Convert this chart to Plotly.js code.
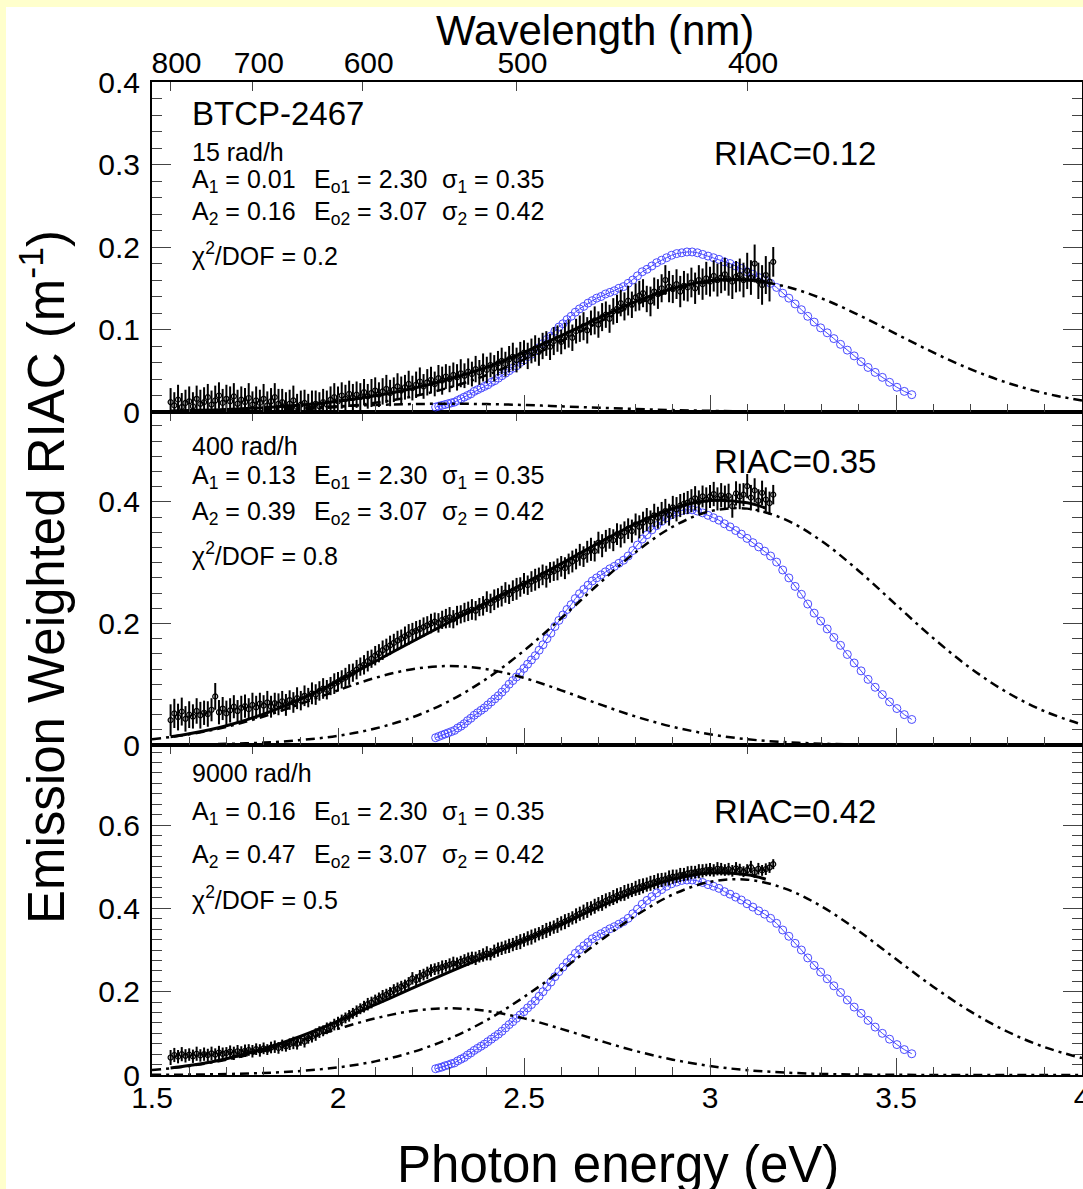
<!DOCTYPE html>
<html>
<head>
<meta charset="utf-8">
<script src="https://cdn.plot.ly/plotly-3.0.1.min.js"></script>
<style>
  html, body { margin:0; padding:0; background:#ffffcc; width:1083px; height:1189px; overflow:hidden; }
  #chart { position:absolute; left:6px; top:7px; width:1077px; height:1182px; }
</style>
</head>
<body>
<div id="chart"></div>
<script>
// ---------------- DATA ----------------
const hc = 1239.84; // eV*nm, energy <-> wavelength
const wavelengthTicks = [800, 700, 600, 500, 400];

const doseLabels = ['15 rad/h', '400 rad/h', '9000 rad/h'];
const fitA1 = ['0.01', '0.13', '0.16'];
const fitA2 = ['0.16', '0.39', '0.47'];
const fitE1 = '2.30', fitE2 = '3.07', fitS1 = '0.35', fitS2 = '0.42';
const chi2dof = ['0.2', '0.8', '0.5'];
const riacValues = ['0.12', '0.35', '0.42'];

// measured points: photon energy sampled from 1.55 eV in 0.01 eV steps
const dataStartE = 1.55, dataStepE = 0.01;

const riac15 = [
0.012,0.008,0.015,0.006,0.011,0.013,0.007,0.016,0.010,0.012,
0.018,0.009,0.014,0.020,0.011,0.016,0.013,0.019,0.010,0.015,
0.012,0.017,0.009,0.014,0.011,0.016,0.008,0.013,0.018,0.010,
0.012,0.007,0.010,0.014,0.006,0.009,0.011,0.005,0.008,0.010,
0.007,0.012,0.009,0.015,0.018,0.013,0.020,0.016,0.022,0.017,
0.021,0.018,0.024,0.019,0.023,0.026,0.021,0.025,0.028,0.023,
0.027,0.031,0.026,0.030,0.034,0.029,0.033,0.037,0.031,0.036,
0.039,0.034,0.041,0.038,0.043,0.040,0.045,0.042,0.047,0.044,
0.049,0.046,0.052,0.048,0.054,0.051,0.057,0.053,0.059,0.062,
0.058,0.064,0.067,0.063,0.069,0.072,0.068,0.074,0.077,0.073,
0.080,0.083,0.079,0.086,0.089,0.085,0.092,0.095,0.090,0.098,
0.101,0.104,0.099,0.108,0.111,0.106,0.115,0.118,0.113,0.122,
0.125,0.132,0.128,0.135,0.130,0.139,0.141,0.144,0.137,0.134,
0.146,0.143,0.150,0.160,0.152,0.149,0.155,0.146,0.153,0.151,
0.157,0.150,0.160,0.155,0.162,0.158,0.165,0.160,0.163,0.167,
0.161,0.158,0.164,0.166,0.160,0.171,0.163,0.180,0.159,0.154,
0.166,0.158,0.182];
const err15 = [
0.017,0.016,0.018,0.017,0.016,0.018,0.017,0.016,0.017,0.018,
0.016,0.017,0.018,0.016,0.017,0.017,0.018,0.016,0.017,0.016,
0.017,0.018,0.016,0.017,0.016,0.018,0.017,0.016,0.017,0.018,
0.016,0.017,0.017,0.018,0.016,0.017,0.016,0.017,0.018,0.016,
0.017,0.016,0.017,0.016,0.017,0.018,0.016,0.017,0.016,0.017,
0.016,0.017,0.016,0.015,0.017,0.016,0.015,0.016,0.017,0.016,
0.015,0.016,0.017,0.015,0.016,0.015,0.016,0.017,0.015,0.016,
0.016,0.015,0.016,0.017,0.015,0.016,0.015,0.016,0.017,0.015,
0.016,0.015,0.016,0.015,0.017,0.016,0.015,0.016,0.015,0.016,
0.015,0.016,0.017,0.015,0.016,0.015,0.016,0.015,0.016,0.017,
0.016,0.015,0.016,0.017,0.016,0.015,0.016,0.017,0.016,0.015,
0.016,0.017,0.016,0.015,0.017,0.016,0.017,0.016,0.017,0.016,
0.017,0.016,0.017,0.018,0.016,0.017,0.018,0.017,0.016,0.018,
0.017,0.018,0.017,0.018,0.019,0.017,0.018,0.019,0.018,0.017,
0.018,0.019,0.018,0.019,0.020,0.018,0.019,0.020,0.019,0.020,
0.020,0.021,0.019,0.020,0.021,0.022,0.021,0.023,0.022,0.024,
0.023,0.024,0.018];

const riac400 = [
0.041,0.052,0.046,0.055,0.043,0.050,0.047,0.056,0.049,0.053,
0.051,0.058,0.080,0.054,0.060,0.052,0.057,0.063,0.056,0.061,
0.064,0.059,0.066,0.062,0.068,0.065,0.070,0.063,0.069,0.067,
0.072,0.066,0.074,0.070,0.077,0.073,0.081,0.078,0.085,0.083,
0.089,0.093,0.091,0.097,0.101,0.104,0.108,0.111,0.116,0.119,
0.124,0.129,0.132,0.138,0.142,0.147,0.151,0.156,0.160,0.164,
0.168,0.172,0.175,0.179,0.182,0.186,0.188,0.191,0.194,0.197,
0.200,0.203,0.201,0.206,0.208,0.210,0.207,0.213,0.215,0.218,
0.220,0.223,0.221,0.227,0.229,0.236,0.233,0.239,0.242,0.245,
0.251,0.248,0.254,0.257,0.260,0.266,0.263,0.269,0.272,0.275,
0.280,0.277,0.284,0.286,0.289,0.294,0.291,0.298,0.302,0.306,
0.313,0.310,0.318,0.322,0.319,0.333,0.328,0.336,0.340,0.337,
0.347,0.344,0.350,0.356,0.352,0.363,0.359,0.366,0.371,0.368,
0.378,0.374,0.381,0.385,0.379,0.391,0.388,0.394,0.397,0.399,
0.402,0.406,0.400,0.409,0.404,0.409,0.413,0.405,0.411,0.408,
0.410,0.393,0.414,0.409,0.412,0.426,0.407,0.419,0.402,0.415,
0.404,0.398,0.412];
const err400 = [
0.026,0.024,0.022,0.023,0.021,0.022,0.020,0.021,0.022,0.020,
0.021,0.019,0.022,0.020,0.019,0.021,0.020,0.019,0.018,0.020,
0.019,0.018,0.020,0.019,0.018,0.017,0.019,0.018,0.017,0.018,
0.017,0.018,0.016,0.017,0.018,0.016,0.017,0.016,0.018,0.017,
0.016,0.017,0.016,0.015,0.017,0.016,0.015,0.016,0.017,0.015,
0.016,0.015,0.016,0.017,0.015,0.016,0.015,0.016,0.015,0.016,
0.015,0.016,0.015,0.016,0.017,0.015,0.016,0.015,0.016,0.015,
0.016,0.015,0.016,0.015,0.016,0.017,0.015,0.016,0.015,0.016,
0.016,0.017,0.016,0.015,0.016,0.017,0.016,0.017,0.016,0.017,
0.017,0.016,0.017,0.018,0.016,0.017,0.016,0.017,0.018,0.017,
0.017,0.018,0.017,0.016,0.018,0.017,0.018,0.017,0.018,0.017,
0.018,0.017,0.018,0.019,0.017,0.018,0.019,0.018,0.017,0.018,
0.018,0.019,0.018,0.017,0.019,0.018,0.019,0.018,0.019,0.018,
0.019,0.018,0.019,0.020,0.018,0.019,0.020,0.019,0.018,0.019,
0.019,0.020,0.019,0.018,0.020,0.019,0.020,0.019,0.020,0.019,
0.020,0.019,0.020,0.021,0.019,0.020,0.021,0.020,0.019,0.020,
0.020,0.019,0.016];

const riac9000 = [
0.042,0.048,0.044,0.050,0.046,0.049,0.045,0.051,0.047,0.050,
0.048,0.052,0.049,0.054,0.051,0.053,0.056,0.052,0.057,0.055,
0.058,0.060,0.057,0.062,0.059,0.064,0.061,0.066,0.068,0.065,
0.071,0.069,0.074,0.077,0.075,0.083,0.080,0.088,0.092,0.097,
0.103,0.106,0.112,0.115,0.121,0.125,0.131,0.137,0.142,0.148,
0.153,0.159,0.164,0.170,0.174,0.180,0.184,0.189,0.193,0.198,
0.204,0.207,0.212,0.216,0.221,0.232,0.228,0.237,0.241,0.245,
0.251,0.254,0.256,0.259,0.262,0.265,0.268,0.267,0.272,0.275,
0.278,0.281,0.280,0.285,0.288,0.292,0.290,0.297,0.301,0.304,
0.307,0.310,0.313,0.317,0.320,0.324,0.328,0.331,0.335,0.339,
0.343,0.347,0.351,0.355,0.359,0.364,0.368,0.372,0.377,0.382,
0.387,0.391,0.396,0.400,0.405,0.410,0.413,0.418,0.422,0.426,
0.430,0.434,0.437,0.441,0.444,0.448,0.451,0.454,0.457,0.460,
0.463,0.466,0.468,0.470,0.473,0.476,0.477,0.480,0.481,0.484,
0.486,0.487,0.489,0.490,0.492,0.493,0.491,0.495,0.494,0.492,
0.494,0.490,0.496,0.493,0.488,0.492,0.499,0.486,0.495,0.491,
0.494,0.498,0.506];
const err9000 = [
0.018,0.017,0.016,0.017,0.016,0.015,0.016,0.017,0.015,0.016,
0.015,0.016,0.015,0.016,0.015,0.014,0.015,0.016,0.015,0.014,
0.015,0.014,0.015,0.014,0.015,0.014,0.013,0.014,0.015,0.014,
0.014,0.013,0.014,0.015,0.014,0.013,0.014,0.013,0.014,0.015,
0.014,0.013,0.014,0.013,0.014,0.015,0.014,0.013,0.014,0.013,
0.014,0.013,0.014,0.015,0.014,0.013,0.014,0.015,0.014,0.013,
0.014,0.015,0.014,0.013,0.014,0.015,0.014,0.015,0.014,0.015,
0.015,0.014,0.015,0.016,0.014,0.015,0.016,0.015,0.014,0.015,
0.016,0.015,0.016,0.015,0.016,0.017,0.015,0.016,0.017,0.016,
0.016,0.017,0.016,0.017,0.018,0.016,0.017,0.018,0.017,0.016,
0.017,0.018,0.017,0.016,0.018,0.017,0.018,0.017,0.016,0.018,
0.017,0.018,0.019,0.017,0.018,0.017,0.019,0.018,0.017,0.018,
0.018,0.017,0.019,0.018,0.017,0.018,0.019,0.018,0.017,0.018,
0.017,0.018,0.017,0.016,0.018,0.017,0.016,0.017,0.016,0.017,
0.016,0.015,0.017,0.016,0.015,0.016,0.015,0.016,0.015,0.014,
0.015,0.014,0.015,0.014,0.013,0.014,0.015,0.013,0.014,0.013,
0.014,0.013,0.012];

// emission spectrum (blue circles), sampled every 2 nm from 548 nm down to 350 nm
const emisStartNm = 548, emisStepNm = 2;
const emis15 = [
0.006,0.007,0.008,0.009,0.010,0.011,0.012,0.014,0.016,0.018,
0.020,0.022,0.025,0.027,0.029,0.031,0.033,0.036,0.038,0.041,
0.044,0.047,0.050,0.053,0.056,0.060,0.063,0.067,0.070,0.074,
0.078,0.083,0.088,0.092,0.098,0.103,0.107,0.112,0.116,0.121,
0.125,0.128,0.132,0.135,0.138,0.140,0.143,0.145,0.147,0.150,
0.152,0.156,0.160,0.165,0.170,0.173,0.177,0.181,0.184,0.187,
0.190,0.192,0.193,0.194,0.194,0.193,0.191,0.189,0.187,0.185,
0.182,0.180,0.177,0.174,0.170,0.167,0.163,0.160,0.156,0.151,
0.144,0.138,0.131,0.124,0.116,0.109,0.102,0.096,0.089,0.082,
0.075,0.068,0.061,0.054,0.048,0.042,0.036,0.030,0.025,0.021];
const emis400 = [
0.012,0.014,0.016,0.018,0.020,0.022,0.024,0.028,0.031,0.035,
0.040,0.044,0.049,0.053,0.057,0.061,0.066,0.071,0.076,0.081,
0.087,0.093,0.100,0.106,0.112,0.119,0.126,0.133,0.140,0.147,
0.156,0.165,0.175,0.184,0.195,0.205,0.214,0.223,0.231,0.241,
0.249,0.256,0.263,0.270,0.275,0.280,0.285,0.290,0.294,0.299,
0.304,0.311,0.320,0.329,0.339,0.346,0.354,0.361,0.368,0.374,
0.379,0.383,0.386,0.387,0.387,0.385,0.382,0.378,0.374,0.370,
0.364,0.359,0.353,0.347,0.340,0.333,0.326,0.319,0.311,0.301,
0.288,0.275,0.261,0.248,0.232,0.217,0.204,0.191,0.177,0.164,
0.149,0.135,0.122,0.108,0.095,0.083,0.071,0.060,0.050,0.042];
const emis9000 = [
0.015,0.017,0.019,0.022,0.024,0.027,0.029,0.034,0.038,0.042,
0.048,0.053,0.059,0.064,0.069,0.074,0.080,0.086,0.092,0.098,
0.105,0.113,0.121,0.128,0.136,0.144,0.152,0.161,0.169,0.178,
0.189,0.200,0.212,0.223,0.236,0.248,0.259,0.270,0.280,0.292,
0.301,0.310,0.318,0.327,0.333,0.339,0.345,0.351,0.356,0.362,
0.368,0.376,0.387,0.398,0.410,0.419,0.428,0.437,0.445,0.453,
0.459,0.463,0.467,0.468,0.468,0.466,0.462,0.457,0.453,0.448,
0.440,0.434,0.427,0.420,0.411,0.403,0.394,0.386,0.376,0.364,
0.348,0.333,0.316,0.300,0.281,0.263,0.247,0.231,0.214,0.198,
0.180,0.163,0.148,0.131,0.115,0.100,0.086,0.073,0.061,0.051];

// Gaussian components (dash-dot) read at 0.1 eV steps, 1.5 .. 4.0 eV
const compEnergy = [1.5,1.6,1.7,1.8,1.9,2.0,2.1,2.2,2.3,2.4,2.5,2.6,2.7,2.8,2.9,3.0,3.1,3.2,3.3,3.4,3.5,3.6,3.7,3.8,3.9,4.0];
const comp1_15 = [0.0007,0.0014,0.0023,0.0036,0.0052,0.0069,0.0085,0.0096,0.0100,0.0096,0.0085,0.0069,0.0052,0.0036,0.0023,0.0014,0.0007,0.0004,0.0002,0.0001,0,0,0,0,0,0];
const comp2_15 = [0.0001,0.0004,0.0008,0.0017,0.0033,0.0062,0.0111,0.0187,0.0298,0.0448,0.0637,0.0856,0.1085,0.1301,0.1474,0.1578,0.1596,0.1525,0.1377,0.1175,0.0947,0.0722,0.0520,0.0353,0.0227,0.0138];
const comp1_400 = [0.0095,0.0176,0.0299,0.0469,0.0677,0.0900,0.1104,0.1248,0.1300,0.1248,0.1104,0.0900,0.0677,0.0469,0.0299,0.0176,0.0095,0.0048,0.0022,0.0009,0.0004,0.0001,0,0,0,0];
const comp2_400 = [0.0004,0.0009,0.0019,0.0040,0.0081,0.0152,0.0271,0.0456,0.0726,0.1093,0.1553,0.2085,0.2646,0.3172,0.3593,0.3846,0.3890,0.3717,0.3357,0.2864,0.2309,0.1759,0.1266,0.0861,0.0553,0.0336];
const comp1_9000 = [0.0117,0.0216,0.0368,0.0577,0.0833,0.1108,0.1359,0.1536,0.1600,0.1536,0.1359,0.1108,0.0833,0.0577,0.0368,0.0216,0.0117,0.0059,0.0027,0.0011,0.0004,0.0002,0,0,0,0];
const comp2_9000 = [0.0004,0.0010,0.0023,0.0049,0.0097,0.0183,0.0327,0.0550,0.0875,0.1317,0.1872,0.2513,0.3188,0.3823,0.4331,0.4635,0.4688,0.4480,0.4046,0.3452,0.2783,0.2120,0.1526,0.1038,0.0667,0.0405];

// total fit (solid line) over the measured range
const fitEnergy = [1.55,1.6,1.7,1.8,1.9,2.0,2.1,2.2,2.3,2.4,2.5,2.6,2.7,2.8,2.9,3.0,3.1,3.15];
const fit15   = [0.0012,0.0018,0.0031,0.0053,0.0085,0.0131,0.0196,0.0283,0.0398,0.0544,0.0722,0.0925,0.1137,0.1337,0.1497,0.1592,0.1603,0.1576];
const fit400  = [0.0137,0.0185,0.0318,0.0509,0.0758,0.1052,0.1375,0.1704,0.2026,0.2341,0.2657,0.2985,0.3323,0.3641,0.3892,0.4022,0.3985,0.3898];
const fit9000 = [0.0168,0.0226,0.0391,0.0626,0.0930,0.1291,0.1686,0.2086,0.2475,0.2853,0.3231,0.3621,0.4021,0.4400,0.4699,0.4851,0.4805,0.4699];

// ---------------- BUILD ----------------
const dataEnergy = riac15.map((_, i) => +(dataStartE + dataStepE * i).toFixed(2));
const emisEnergy = emis400.map((_, i) => hc / (emisStartNm - emisStepNm * i));

const BLUE = 'rgb(55,55,255)';
const DASHDOT = '9px,5px,3px,5px';
const panels = [
  {xa:'x3', ya:'y3', vals:riac15,   err:err15,   emis:emis15,   c1:comp1_15,   c2:comp2_15,   fit:fit15},
  {xa:'x2', ya:'y2', vals:riac400,  err:err400,  emis:emis400,  c1:comp1_400,  c2:comp2_400,  fit:fit400},
  {xa:'x',  ya:'y',  vals:riac9000, err:err9000, emis:emis9000, c1:comp1_9000, c2:comp2_9000, fit:fit9000}
];

const traces = [];
panels.forEach(p => {
  traces.push({x:emisEnergy, y:p.emis, xaxis:p.xa, yaxis:p.ya, mode:'lines+markers', hoverinfo:'skip',
    line:{color:BLUE, width:1}, marker:{symbol:'circle-open', size:8, color:BLUE, line:{width:1, color:BLUE}}, opacity:0.9});
  traces.push({x:dataEnergy, y:p.vals, xaxis:p.xa, yaxis:p.ya, mode:'markers', hoverinfo:'skip',
    marker:{symbol:'circle-open', size:5, color:'black', line:{width:1.2, color:'black'}},
    error_y:{type:'data', array:p.err, visible:true, thickness:2, width:0, color:'black'}});
  traces.push({x:fitEnergy, y:p.fit, xaxis:p.xa, yaxis:p.ya, mode:'lines', hoverinfo:'skip',
    line:{color:'black', width:3, shape:'spline'}});
  traces.push({x:compEnergy, y:p.c1, xaxis:p.xa, yaxis:p.ya, mode:'lines', hoverinfo:'skip',
    line:{color:'black', width:2.5, dash:DASHDOT, shape:'spline'}});
  traces.push({x:compEnergy, y:p.c2, xaxis:p.xa, yaxis:p.ya, mode:'lines', hoverinfo:'skip',
    line:{color:'black', width:2.5, dash:DASHDOT, shape:'spline'}});
});
// empty traces that host the wavelength (top) axes
[['x4','y'],['x5','y2'],['x6','y3']].forEach(([xa,ya]) =>
  traces.push({x:[], y:[], xaxis:xa, yaxis:ya, mode:'markers', hoverinfo:'skip', showlegend:false}));

const TICKC = '#444';
function energyAxis(anchor, labels) {
  return {anchor, range:[1.5,4], autorange:false, showgrid:false, zeroline:false,
    showline:true, linecolor:'black', linewidth:2, mirror:false,
    ticks:'inside', ticklen:17, tickwidth:1, tickcolor:TICKC, tick0:1.5, dtick:0.5,
    minor:{dtick:0.1, ticks:'inside', ticklen:8, tickwidth:1, tickcolor:TICKC, showgrid:false},
    showticklabels:labels, tickfont:{size:30}, ticklabelstandoff:-5, ticklabeloverflow:'allow'};
}
function wlAxis(over, anchor, labels) {
  return {overlaying:over, anchor, side:'top', range:[1.5,4], autorange:false, showgrid:false, zeroline:false,
    showline:true, linecolor:'black', linewidth:2,
    ticks:'inside', ticklen:9, tickwidth:1, tickcolor:TICKC,
    tickmode:'array', tickvals:wavelengthTicks.map(w => hc / w), ticktext:wavelengthTicks.map(String),
    showticklabels:labels, tickfont:{size:30}, ticklabelstandoff:-5, ticklabelshift:6};
}
function yAxis(anchor, domain, range, dtick, minor) {
  return {anchor, domain, range, autorange:false, showgrid:false, zeroline:false,
    showline:true, linecolor:'black', linewidth:2, mirror:'ticks',
    ticks:'inside', ticklen:19, tickwidth:1, tickcolor:TICKC, tick0:0, dtick,
    minor:{dtick:minor, ticks:'inside', ticklen:10, tickwidth:1, tickcolor:TICKC, showgrid:false},
    tickfont:{size:30}, ticklabelstandoff:4};
}

// pixel helpers (page coordinates of the plotting area)
const PL = 152, PW = 930, PB = 1075, PH = 993;
const px = X => (X - PL) / PW;
const py = Y => (PB - Y) / PH;
const annotations = [];
function txt(s, left, base, size) {
  annotations.push({text:s, xref:'paper', yref:'paper', x:px(left), y:py(base - 0.3465 * size),
    xanchor:'left', yanchor:'middle', showarrow:false, font:{size, color:'black'}});
}
txt('BTCP-2467', 190, 125, 33);
const rows = [
  {dose:161, a1:190, a2:222, chi:263, riac:165},
  {dose:455, a1:486, a2:522, chi:563, riac:473},
  {dose:782, a1:822, a2:865, chi:907, riac:823}
];
rows.forEach((r, i) => {
  txt(doseLabels[i], 190, r.dose, 25);
  txt('A<sub>1</sub> = ' + fitA1[i], 190, r.a1, 25);
  txt('E<sub>o1</sub> = ' + fitE1, 312, r.a1, 25);
  txt('\u03c3<sub>1</sub> = ' + fitS1, 440, r.a1, 25);
  txt('A<sub>2</sub> = ' + fitA2[i], 190, r.a2, 25);
  txt('E<sub>o2</sub> = ' + fitE2, 312, r.a2, 25);
  txt('\u03c3<sub>2</sub> = ' + fitS2, 440, r.a2, 25);
  txt('\u03c7<sup>2</sup>/DOF = ' + chi2dof[i], 190, r.chi, 25);
  txt('RIAC=' + riacValues[i], 712, r.riac, 33);
});
// axis titles
annotations.push({text:'Wavelength (nm)', xref:'paper', yref:'paper', x:px(595), y:py(45 - 0.3465*42),
  xanchor:'center', yanchor:'middle', showarrow:false, font:{size:42, color:'black'}});
annotations.push({text:'Photon energy (eV)', xref:'paper', yref:'paper', x:px(618), y:py(1182 - 0.3465*51),
  xanchor:'center', yanchor:'middle', showarrow:false, font:{size:51, color:'black'}});
annotations.push({text:'Emission Weighted RIAC (m<sup>-1</sup>)', xref:'paper', yref:'paper', x:px(43), y:py(577),
  xanchor:'center', yanchor:'middle', textangle:-90, showarrow:false, font:{size:51, color:'black'}});

const layout = {
  width:1077, height:1182,
  margin:{l:146, r:1, t:75, b:114, pad:0},
  paper_bgcolor:'#ffffff', plot_bgcolor:'#ffffff',
  showlegend:false,
  font:{family:'"Liberation Sans", Arial, Helvetica, sans-serif', color:'#000', size:25},
  xaxis:energyAxis('y', true),
  xaxis2:energyAxis('y2', false),
  xaxis3:energyAxis('y3', false),
  xaxis4:wlAxis('x', 'y', false),
  xaxis5:wlAxis('x2', 'y2', false),
  xaxis6:wlAxis('x3', 'y3', true),
  yaxis:yAxis('x', [0, 330/993], [0, 0.792], 0.2, 0.025),
  yaxis2:yAxis('x2', [330/993, 663/993], [0, 0.548], 0.2, 0.025),
  yaxis3:yAxis('x3', [663/993, 1], [0, 0.4], 0.1, 0.02),
  annotations
};

Plotly.newPlot('chart', traces, layout, {displayModeBar:false, staticPlot:true});
</script>
</body>
</html>
